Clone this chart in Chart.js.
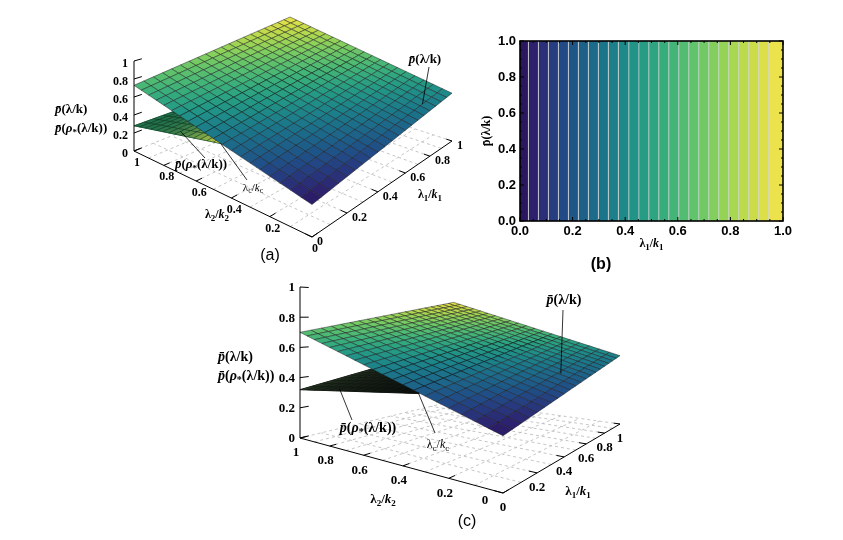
<!DOCTYPE html>
<html>
<head>
<meta charset="utf-8">
<script src="https://cdn.jsdelivr.net/npm/chart.js@4.4.1/dist/chart.umd.min.js"></script>
<style>
  html, body { margin: 0; padding: 0; background: #fff; }
  body { width: 843px; height: 540px; position: relative; overflow: hidden; }
  .box { position: absolute; }
</style>
</head>
<body>
<div class="box" style="left:0;top:0;width:480px;height:270px"><canvas id="chartA"></canvas></div>
<div class="box" style="left:480px;top:20px;width:330px;height:260px"><canvas id="chartB"></canvas></div>
<div class="box" style="left:200px;top:270px;width:460px;height:270px"><canvas id="chartC"></canvas></div>
<script>
// ---- data ----

// ticks of the two 3D panels
const lambdaTicks = [0, 0.2, 0.4, 0.6, 0.8, 1];
const lambdaTickLabels = ['0', '0.2', '0.4', '0.6', '0.8', '1'];
const zTicks = [0, 0.2, 0.4, 0.6, 0.8, 1];
const zTickLabels = ['0', '0.2', '0.4', '0.6', '0.8', '1'];
const floorGrid = [0.1, 0.2, 0.3, 0.4, 0.5, 0.6, 0.7, 0.8, 0.9, 1];

// p̄(λ/k) at the corners, [λ1/k1 = 0|1][λ2/k2 = 0|1]
const pBarA = [[0.29, 0.73], [0.57, 1.0]];
const pBarC = [[0.26, 0.70], [0.51, 0.94]];

// p̄(ρ*(λ/k)) corners, [λ1/k1 = 0|1][λ2/k2 = λc/kc|1]
const rhoA = [[0.49, 0.28], [0.75, 0.26]];
const rhoC = [[0.40, 0.32], [0.64, 0.53]];
const lambdaCA = 0.46;
const lambdaCC = 0.33;

// panel (b)
const bTicks = [0, 0.2, 0.4, 0.6, 0.8, 1];
const bTickLabels = ['0.0', '0.2', '0.4', '0.6', '0.8', '1.0'];
const stripeEdges = [0, 0.032, 0.070, 0.108, 0.146, 0.184, 0.222, 0.260, 0.298, 0.336, 0.374,
  0.414, 0.452, 0.490, 0.528, 0.566, 0.604, 0.642, 0.680, 0.718, 0.756, 0.794, 0.832, 0.870,
  0.908, 0.946, 1.0];
const stripeColors = ['#2b1760', '#2d216e', '#2a2f78', '#263d80', '#214a86', '#1e5688', '#1d6189',
  '#1c6b8a', '#1b758a', '#1c7f8a', '#1e8989', '#219387', '#269c84', '#2ea580', '#38ad7c', '#44b577',
  '#52bc71', '#61c36b', '#71c965', '#83cf5e', '#95d357', '#a8d751', '#bbda4c', '#ccdc48', '#dcdf48',
  '#ece34c'];

// ---- style ----
const serif = '"Liberation Serif", "DejaVu Serif", serif';
const sans = '"Liberation Sans", Arial, sans-serif';
const meshCount = 20;
const rhoMesh = [20, 14];

// view setup for each 3D panel (page pixels of the box corners)
const viewA = {
  F: [312, 237], R: [452, 141], L: [134, 151], T: [134, 61], w1: 0.333, w2: 0.243,
  area: [0, 0, 480, 270], font: 12,
  l1Off: [5, 5, 'left'], l2Off: [3, 12, 'center'], l2ZeroOff: [3, 12], zOff: [-6, 3],
  zTitle: [55, 110, 19], l1Title: [430, 195], l2Title: [217, 215],
  pText: [425, 60], rhoText: [201, 165], lcText: [253, 188],
  pLead: [0.82, 0.05, 429, 67], rhoLead: [0.03, 0.73, 205, 158], lcLead: [247, 180],
  panel: ['(a)', 270, 256],
  rhoBase: '#2a7a52', rhoColors: ['#22704c', '#dada44'], rhoLine: 'rgba(10,40,25,0.75)', rhoPow: 2.6
};
const viewC = {
  F: [503, 493], R: [620, 424], L: [300, 438], T: [300, 287], w1: 0.643, w2: 0.458,
  area: [200, 270, 660, 540], font: 13,
  l1Off: [0, 15, 'center'], l2Off: [-4, 15, 'center'], l2ZeroOff: [-18, 8], zOff: [-5, 1],
  zTitle: [218, 357, 19], l1Title: [578, 492], l2Title: [383, 500],
  pText: [564, 300], rhoText: [368, 428], lcText: [438, 445],
  pLead: [0.56, 0.09, 563, 310], rhoLead: [0.03, 0.78, 352, 420], lcLead: [435, 433],
  panel: ['(c)', 467, 522],
  rhoBase: '#151e17', rhoColors: ['#2c3b28', '#0a0f0c'], rhoLine: 'rgba(8,14,10,0.4)', rhoPow: 0.5
};

// colours
function hexToRgb(h) {
  return [parseInt(h.slice(1, 3), 16), parseInt(h.slice(3, 5), 16), parseInt(h.slice(5, 7), 16)];
}
function mix(c1, c2, t) {
  const a = hexToRgb(c1), b = hexToRgb(c2);
  return 'rgb(' + a.map((v, i) => Math.round(v + (b[i] - v) * t)).join(',') + ')';
}
function cmap(t) {
  t = Math.max(0, Math.min(1, t));
  const n = stripeColors.length - 1;
  const i = Math.min(n - 1, Math.floor(t * n));
  return mix(stripeColors[i], stripeColors[i + 1], t * n - i);
}

// perspective map of (λ1, λ2, z) onto the page
function makeProjector(v) {
  const a = 1 + v.w1, b = 1 + v.w2;
  const e1 = [(v.R[0] - v.F[0]) * a, (v.R[1] - v.F[1]) * a];
  const e2 = [(v.L[0] - v.F[0]) * b, (v.L[1] - v.F[1]) * b];
  const ez = [(v.T[0] - v.L[0]) * b, (v.T[1] - v.L[1]) * b];
  return function (l1, l2, z) {
    const d = 1 + v.w1 * l1 + v.w2 * l2;
    return {
      x: v.F[0] + (l1 * e1[0] + l2 * e2[0] + z * ez[0]) / d,
      y: v.F[1] + (l1 * e1[1] + l2 * e2[1] + z * ez[1]) / d,
      d: d
    };
  };
}

// corner values -> value inside the cell
function surfaceValue(c, u, w) {
  return c[0][0] * (1 - u) * (1 - w) + c[1][0] * u * (1 - w) + c[0][1] * (1 - u) * w + c[1][1] * u * w;
}

function build3D(v, P, pBar, rho, lambdaC) {
  const sets = [];
  const line = (pts, color, width, dash) => sets.push({
    data: pts.map(p => ({ x: p.x, y: p.y })),
    borderColor: color, borderWidth: width, borderDash: dash || [], fill: false
  });
  const poly = q => sets.push({
    data: q.pts.concat([q.pts[0]]).map(p => ({ x: p.x, y: p.y })),
    borderColor: q.line, borderWidth: q.lw, backgroundColor: q.color, fill: 'shape'
  });

  // dashed floor grid
  floorGrid.forEach(g => {
    line([P(g, 0, 0), P(g, 1, 0)], '#b8b8b8', 0.8, [3, 3]);
    line([P(0, g, 0), P(1, g, 0)], '#b8b8b8', 0.8, [3, 3]);
  });

  // p̄(ρ*) sheet, lying under p̄
  const lam = w => lambdaC + (1 - lambdaC) * w;
  const RP = (u, w) => P(u, lam(w), surfaceValue(rho, u, w));
  const outline = [];
  for (let i = 0; i <= rhoMesh[0]; i++) outline.push(RP(i / rhoMesh[0], 0));
  for (let j = 0; j <= rhoMesh[1]; j++) outline.push(RP(1, j / rhoMesh[1]));
  for (let i = rhoMesh[0]; i >= 0; i--) outline.push(RP(i / rhoMesh[0], 1));
  for (let j = rhoMesh[1]; j >= 0; j--) outline.push(RP(0, j / rhoMesh[1]));
  poly({ pts: outline, color: v.rhoBase, line: v.rhoBase, lw: 1 });
  const rq = [];
  for (let i = 0; i < rhoMesh[0]; i++) {
    for (let j = 0; j < rhoMesh[1]; j++) {
      const u0 = i / rhoMesh[0], u1 = (i + 1) / rhoMesh[0];
      const w0 = j / rhoMesh[1], w1 = (j + 1) / rhoMesh[1];
      const pts = [[u0, w0], [u1, w0], [u1, w1], [u0, w1]].map(([u, w]) => RP(u, w));
      const uc = (u0 + u1) / 2, wc = (w0 + w1) / 2;
      rq.push({
        pts: pts, depth: P(uc, lam(wc), 0).d,
        color: mix(v.rhoColors[0], v.rhoColors[1], Math.pow(1 - wc, v.rhoPow)),
        line: v.rhoLine, lw: 0.5
      });
    }
  }
  rq.sort((a, b) => b.depth - a.depth).forEach(poly);

  // p̄ surface
  const zs = pBar[0].concat(pBar[1]);
  const zmin = Math.min(...zs), zmax = Math.max(...zs);
  const pq = [];
  for (let i = 0; i < meshCount; i++) {
    for (let j = 0; j < meshCount; j++) {
      const u0 = i / meshCount, u1 = (i + 1) / meshCount;
      const w0 = j / meshCount, w1 = (j + 1) / meshCount;
      const pts = [[u0, w0], [u1, w0], [u1, w1], [u0, w1]].map(([u, w]) => P(u, w, surfaceValue(pBar, u, w)));
      const uc = (u0 + u1) / 2, wc = (w0 + w1) / 2;
      const zc = surfaceValue(pBar, uc, wc);
      pq.push({
        pts: pts, depth: P(uc, wc, 0).d,
        color: cmap((zc - zmin) / (zmax - zmin)),
        line: 'rgba(25,25,30,0.8)', lw: 0.6
      });
    }
  }
  pq.sort((a, b) => b.depth - a.depth).forEach(poly);

  // axes and ticks
  line([P(0, 0, 0), P(0, 1, 0)], '#000', 1);
  line([P(0, 0, 0), P(1, 0, 0)], '#000', 1);
  line([P(0, 1, 0), P(0, 1, 1)], '#000', 1);
  lambdaTicks.forEach(t => {
    line([P(t, 0, 0), P(t, 0.03, 0)], '#000', 1);
    line([P(0, t, 0), P(0.03, t, 0)], '#000', 1);
  });
  zTicks.forEach(z => line([P(0, 1, z), P(0.04, 1, z)], '#000', 1));

  // leader lines of the annotations
  const pl = v.pLead, rl = v.rhoLead;
  line([P(pl[0], pl[1], surfaceValue(pBar, pl[0], pl[1])), { x: pl[2], y: pl[3] }], '#000', 0.8);
  const rw = (rl[1] - lambdaC) / (1 - lambdaC);
  line([P(rl[0], rl[1], surfaceValue(rho, rl[0], rw)), { x: rl[2], y: rl[3] }], '#000', 0.8);
  line([P(0, lambdaC, surfaceValue(pBar, 0, lambdaC)), { x: v.lcLead[0], y: v.lcLead[1] }], '#000', 0.8);
  return sets;
}

// text made of pieces: {t, i: italic, s: subscript}
function rich(ctx, parts, x, y, size, align, bold, family) {
  const fam = family || serif;
  const fontOf = p => (p.i ? 'italic ' : '') + (bold ? 'bold ' : '') + Math.round(p.s ? size * 0.72 : size) + 'px ' + fam;
  let total = 0;
  parts.forEach(p => { ctx.font = fontOf(p); p.w = ctx.measureText(p.t).width; total += p.w; });
  let cx = align === 'center' ? x - total / 2 : (align === 'right' ? x - total : x);
  ctx.textAlign = 'left';
  parts.forEach(p => {
    ctx.font = fontOf(p);
    ctx.fillText(p.t, cx, y + (p.s ? size * 0.3 : 0));
    cx += p.w;
  });
}

const pLabel = () => [{ t: 'p\u0304', i: 1 }, { t: '(λ/k)' }];
const rhoLabel = () => [{ t: 'p\u0304', i: 1 }, { t: '(' }, { t: 'ρ', i: 1 }, { t: '*', s: 1 }, { t: '(λ/k))' }];
const lcLabel = () => [{ t: 'λ' }, { t: 'c', s: 1 }, { t: '/' }, { t: 'k', i: 1 }, { t: 'c', s: 1 }];
const lamLabel = n => [{ t: 'λ' }, { t: n, s: 1 }, { t: '/' }, { t: 'k', i: 1 }, { t: n, s: 1 }];

function labels3D(v, P) {
  return {
    id: 'labels3D',
    afterDraw(chart) {
      const ctx = chart.ctx, sx = chart.scales.x, sy = chart.scales.y;
      const X = x => sx.getPixelForValue(x), Y = y => sy.getPixelForValue(y);
      ctx.save();
      ctx.fillStyle = '#000';
      ctx.textBaseline = 'middle';
      zTicks.forEach((z, k) => {
        const p = P(0, 1, z);
        rich(ctx, [{ t: zTickLabels[k] }], X(p.x + v.zOff[0]), Y(p.y + v.zOff[1]), v.font, 'right', true);
      });
      lambdaTicks.forEach((t, k) => {
        const a = P(t, 0, 0);
        rich(ctx, [{ t: lambdaTickLabels[k] }], X(a.x + v.l1Off[0]), Y(a.y + v.l1Off[1]), v.font, v.l1Off[2], true);
        const b = P(0, t, 0);
        const off = t === 0 ? v.l2ZeroOff : v.l2Off;
        rich(ctx, [{ t: lambdaTickLabels[k] }], X(b.x + off[0]), Y(b.y + off[1]), v.font, v.l2Off[2], true);
      });
      rich(ctx, lamLabel('1'), X(v.l1Title[0]), Y(v.l1Title[1]), v.font, 'center', true);
      rich(ctx, lamLabel('2'), X(v.l2Title[0]), Y(v.l2Title[1]), v.font, 'center', true);
      rich(ctx, pLabel(), X(v.zTitle[0]), Y(v.zTitle[1]), v.font + 1, 'left', true);
      rich(ctx, rhoLabel(), X(v.zTitle[0]), Y(v.zTitle[1] + v.zTitle[2]), v.font + 1, 'left', true);
      rich(ctx, pLabel(), X(v.pText[0]), Y(v.pText[1]), v.font + 1, 'center', true);
      rich(ctx, rhoLabel(), X(v.rhoText[0]), Y(v.rhoText[1]), v.font + 1, 'center', true);
      rich(ctx, lcLabel(), X(v.lcText[0]), Y(v.lcText[1]), v.font - 1, 'center', false);
      rich(ctx, [{ t: v.panel[0] }], X(v.panel[1]), Y(v.panel[2]), 16, 'center', false, sans);
      ctx.restore();
    }
  };
}

function make3DChart(id, v, pBar, rho, lambdaC) {
  const P = makeProjector(v);
  const sets = build3D(v, P, pBar, rho, lambdaC);
  return new Chart(document.getElementById(id), {
    type: 'line',
    data: { datasets: sets.reverse() }, // first dataset is painted last
    options: {
      responsive: true, maintainAspectRatio: false, animation: false, events: [],
      layout: { padding: 0 },
      plugins: { legend: { display: false }, tooltip: { enabled: false } },
      elements: { point: { radius: 0 }, line: { tension: 0 } },
      scales: {
        x: { type: 'linear', min: v.area[0], max: v.area[2], display: false },
        y: { type: 'linear', min: v.area[1], max: v.area[3], reverse: true, display: false }
      }
    },
    plugins: [labels3D(v, P)]
  });
}

make3DChart('chartA', viewA, pBarA, rhoA, lambdaCA);
make3DChart('chartC', viewC, pBarC, rhoC, lambdaCC);

// ---- panel (b): contour stripes ----
const stripeSets = stripeColors.map((c, i) => ({
  data: [{ x: stripeEdges[i], y: 1 }, { x: stripeEdges[i + 1], y: 1 }],
  backgroundColor: c, borderWidth: 0, fill: 'origin'
}));
const edgeSets = stripeEdges.slice(1, -1).map(e => ({
  data: [{ x: e, y: 0 }, { x: e, y: 1 }],
  borderColor: 'rgba(200,205,205,0.75)', borderWidth: 1, fill: false
}));

const frameTicks = {
  id: 'frameTicks',
  afterDatasetsDraw(chart) {
    const { ctx, chartArea: a, scales: { x, y } } = chart;
    ctx.save();
    ctx.strokeStyle = '#000';
    ctx.lineWidth = 1;
    ctx.beginPath();
    for (let k = 0; k <= 20; k++) {
      const len = k % 4 === 0 ? 4 : 2;
      const px = x.getPixelForValue(k / 20), py = y.getPixelForValue(k / 20);
      ctx.moveTo(px, a.bottom); ctx.lineTo(px, a.bottom - len);
      ctx.moveTo(px, a.top); ctx.lineTo(px, a.top + len);
      ctx.moveTo(a.left, py); ctx.lineTo(a.left + len, py);
      ctx.moveTo(a.right, py); ctx.lineTo(a.right - len, py);
    }
    ctx.stroke();
    ctx.lineWidth = 1.6;
    ctx.strokeRect(a.left, a.top, a.right - a.left, a.bottom - a.top);
    ctx.fillStyle = '#000';
    ctx.textBaseline = 'middle';
    rich(ctx, lamLabel('1'), (a.left + a.right) / 2, a.bottom + 23, 12, 'center', true);
    rich(ctx, [{ t: '(b)' }], 121, 245, 16, 'center', true, sans);
    ctx.restore();
  }
};

new Chart(document.getElementById('chartB'), {
  type: 'line',
  data: { datasets: edgeSets.concat(stripeSets) },
  options: {
    responsive: true, maintainAspectRatio: false, animation: false, events: [],
    layout: { padding: { top: 21, right: 27, left: 0, bottom: 0 } },
    plugins: { legend: { display: false }, tooltip: { enabled: false } },
    elements: { point: { radius: 0 }, line: { tension: 0 } },
    scales: {
      x: {
        type: 'linear', min: 0, max: 1,
        afterBuildTicks: s => { s.ticks = bTicks.map(t => ({ value: t })); },
        afterFit: s => { s.height = 59; },
        ticks: {
          callback: val => bTickLabels[bTicks.indexOf(val)],
          font: { family: sans, size: 13, weight: 'bold' }, color: '#000', padding: 3, maxRotation: 0
        },
        grid: { display: true, drawOnChartArea: false, drawTicks: false },
        border: { display: false }
      },
      y: {
        type: 'linear', min: 0, max: 1,
        afterBuildTicks: s => { s.ticks = bTicks.map(t => ({ value: t })); },
        afterFit: s => { s.width = 40; },
        ticks: {
          callback: val => bTickLabels[bTicks.indexOf(val)],
          font: { family: sans, size: 13, weight: 'bold' }, color: '#000', padding: 4
        },
        grid: { display: true, drawOnChartArea: false, drawTicks: false },
        border: { display: false },
        title: {
          display: true, text: 'p\u0304(λ/k)', color: '#000', padding: { top: 0, bottom: 0 },
          font: { family: serif, size: 12, weight: 'bold' }
        }
      }
    }
  },
  plugins: [frameTicks]
});
</script>
</body>
</html>
